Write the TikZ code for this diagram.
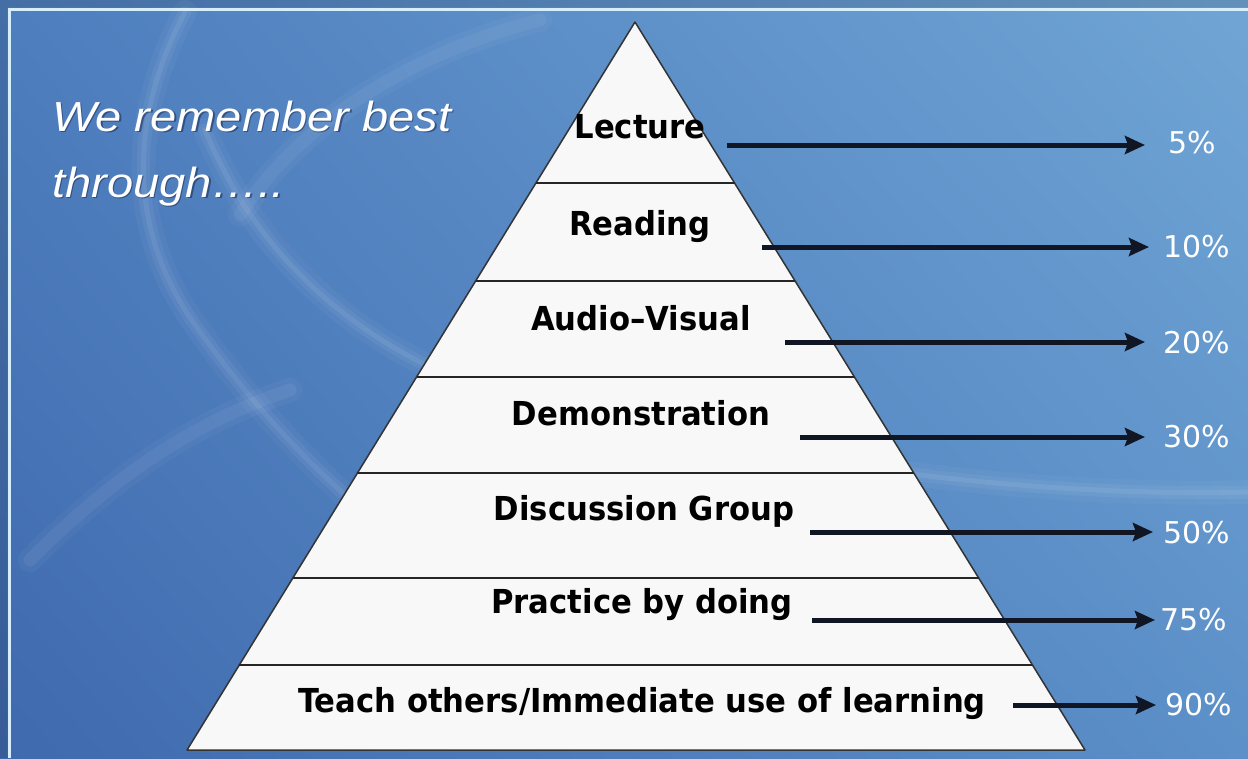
\documentclass[tikz,border=0pt]{standalone}
\usepackage{fontspec}
\usetikzlibrary{arrows.meta,calc,shadings}
\newfontfamily\labfont[FakeStretch=0.93]{DejaVu Sans}
\newfontfamily\pctfont{DejaVu Sans}
\newfontfamily\itfont[FakeStretch=1.12]{Liberation Sans}
\definecolor{bgUL}{RGB}{78,126,190}
\definecolor{bgUR}{RGB}{112,165,213}
\definecolor{bgLL}{RGB}{63,106,174}
\definecolor{bgLR}{RGB}{92,144,200}
\definecolor{framec}{RGB}{215,238,252}
\definecolor{pyrfill}{RGB}{248,248,248}
\definecolor{shadowc}{RGB}{30,50,90}
\definecolor{arrc}{RGB}{16,22,36}
\begin{document}
\begin{tikzpicture}[x=1pt,y=-1pt,
  lab/.style={font=\labfont\bfseries\fontsize{33}{33}\selectfont, text=black, anchor=base, inner sep=0pt},
  pct/.style={font=\pctfont\fontsize{30}{30}\selectfont, text=white, anchor=west, inner sep=0pt},
  arr/.style={line width=5pt, draw=arrc, -{Stealth[length=20pt,width=18pt,inset=3pt]}},
  tier/.style={line width=2.2pt, draw=black!85},
  glowA/.style={white, line cap=round, opacity=0.035, line width=24pt},
  glowB/.style={white, line cap=round, opacity=0.05, line width=13pt},
  glowC/.style={white, line cap=round, opacity=0.07, line width=5pt},
  intro/.style={font=\itfont\itshape\fontsize{42}{42}\selectfont, anchor=base west, inner sep=0pt}
]
\useasboundingbox (0,0) rectangle (1248,758);
% background
\shade[upper left=bgUL, upper right=bgUR, lower left=bgLL, lower right=bgLR] (0,0) rectangle (1248,758);
% light streaks
\foreach \s in {glowA,glowB,glowC}{
  \draw[\s] (185,12) .. controls (128,120) and (128,230) .. (195,325) .. controls (245,395) and (295,450) .. (345,495);
  \draw[\s] (205,130) .. controls (250,240) and (330,320) .. (440,372);
  \draw[\s] (870,468) .. controls (1000,488) and (1150,495) .. (1248,492);
}
\foreach \s in {glowA,glowB}{
  \draw[\s] (240,215) .. controls (300,120) and (420,50) .. (540,20);
  \draw[\s] (30,560) .. controls (120,470) and (200,420) .. (290,390);
}
% frame
\fill[black, opacity=0.12] (0,0) -- (1248,0) -- (1248,7.5) -- (7.5,7.5) -- (7.5,758) -- (0,758) -- cycle;
\draw[line width=3pt, framec] (9,758) -- (9,9) -- (1248,9);
% intro text
\node[intro, text=shadowc, opacity=0.6] at (53.5,132.5) {We remember best};
\node[intro, text=shadowc, opacity=0.6] at (53.5,198.5) {through\dots..};
\node[intro, text=white] (intro1) at (52,131) {We remember best};
\node[intro, text=white] (intro2) at (52,197) {through\dots..};
% pyramid
\coordinate (A) at (635,22);
\coordinate (BL) at (187,750);
\coordinate (BR) at (1085,750);
\filldraw[fill=pyrfill, draw=black!80, line width=1.5pt, line join=round] (A) -- (BL) -- (BR) -- cycle;
\foreach \t in {0.2212,0.3558,0.4876,0.6195,0.7637,0.8832}{
  \draw[tier] ($(A)!\t!(BL)$) -- ($(A)!\t!(BR)$);
}
% labels
\node[lab] (l1) at (640,138) {Lecture};
\node[lab] (l2) at (640,235) {Reading};
\node[lab] (l3) at (641,330) {Audio\textendash Visual};
\node[lab] (l4) at (641,425) {Demonstration};
\node[lab] (l5) at (644,520) {Discussion Group};
\node[lab] (l6) at (642,613) {Practice by doing};
\node[lab] (l7) at (642,712) {Teach others/Immediate use of learning};
% percentages
\node[pct] (p1) at (1168,143) {5\%};
\node[pct] (p2) at (1163,247) {10\%};
\node[pct] (p3) at (1163,343) {20\%};
\node[pct] (p4) at (1163,437) {30\%};
\node[pct] (p5) at (1163,533) {50\%};
\node[pct] (p6) at (1160,620) {75\%};
\node[pct] (p7) at (1165,705) {90\%};
% arrow starts
\coordinate (s1) at (727,145);
\coordinate (s2) at (762,247);
\coordinate (s3) at (785,342);
\coordinate (s4) at (800,437);
\coordinate (s5) at (810,532);
\coordinate (s6) at (812,620);
\coordinate (s7) at (1013,705);
\draw[arr, shorten >=23pt] (s1) -- (s1 -| p1.west);
\draw[arr, shorten >=14pt] (s2) -- (s2 -| p2.west);
\draw[arr, shorten >=18pt] (s3) -- (s3 -| p3.west);
\draw[arr, shorten >=18pt] (s4) -- (s4 -| p4.west);
\draw[arr, shorten >=10pt] (s5) -- (s5 -| p5.west);
\draw[arr, shorten >=5pt] (s6) -- (s6 -| p6.west);
\draw[arr, shorten >=9pt] (s7) -- (s7 -| p7.west);
\end{tikzpicture}
\end{document}
